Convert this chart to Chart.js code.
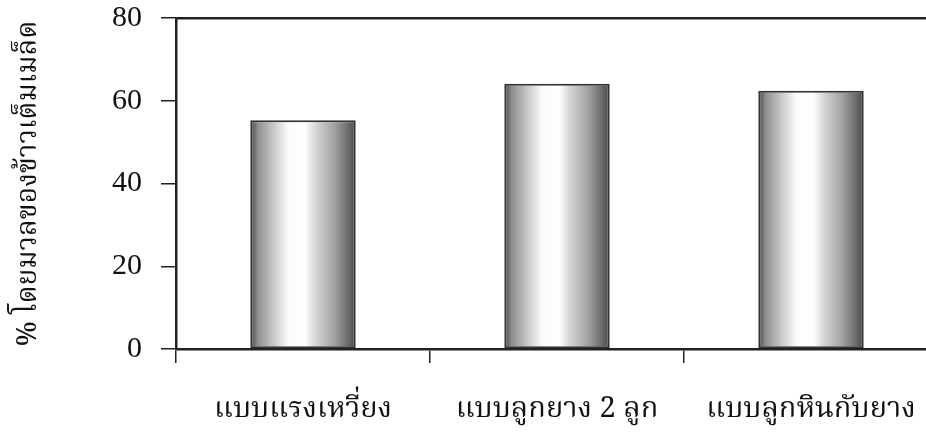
<!DOCTYPE html>
<html>
<head>
<meta charset="utf-8">
<script src="https://cdn.jsdelivr.net/npm/chart.js"></script>
<style>
  html, body { margin: 0; padding: 0; background: #fff; overflow: hidden; }
  #wrap { width: 940px; height: 445px; }
</style>
</head>
<body>
<div id="wrap"><canvas id="myChart"></canvas></div>
<script>
const categories = ['แบบแรงเหวี่ยง', 'แบบลูกยาง 2 ลูก', 'แบบลูกหินกับยาง'];
const wholeGrain = [55.3, 64.1, 62.4];
const yTicks = [0, 20, 40, 60, 80];

const thaiFont = "'Noto Serif Thai', 'Noto Sans Thai', 'Loma', 'Garuda', 'Liberation Serif', serif";
const lineColor = '#222';

// cylinder-like shading across each bar
function barShade(context) {
    const chart = context.chart;
    const xScale = chart.scales.x;
    if (!chart.chartArea || !xScale) return '#bbb';
    const step = xScale.width / categories.length;
    const half = step * 0.415 / 2;
    const cx = xScale.getPixelForValue(context.dataIndex);
    const g = chart.ctx.createLinearGradient(cx - half, 0, cx + half, 0);
    g.addColorStop(0, '#444');
    g.addColorStop(0.07, '#8e8e8e');
    g.addColorStop(0.22, '#c8c8c8');
    g.addColorStop(0.36, '#fbfbfb');
    g.addColorStop(0.52, '#ffffff');
    g.addColorStop(0.62, '#d6d6d6');
    g.addColorStop(0.8, '#a0a0a0');
    g.addColorStop(0.94, '#666');
    g.addColorStop(1, '#444');
    return g;
}

const ctx = document.getElementById('myChart');

const myChart = new Chart(ctx, {
    type: 'bar',
    data: {
        labels: categories,
        datasets: [{
            data: wholeGrain,
            backgroundColor: barShade,
            borderColor: '#333',
            borderWidth: 2,
            borderSkipped: false,
            barPercentage: 0.415,
            categoryPercentage: 1
        }]
    },
    options: {
        responsive: true,
        maintainAspectRatio: false,
        animation: false,
        layout: { padding: { top: 0, right: 2, left: 0, bottom: 0 } },
        plugins: {
            legend: { display: false },
            tooltip: { enabled: false }
        },
        scales: {
            x: {
                position: 'bottom',
                offset: true,
                grid: {
                    offset: true,
                    drawOnChartArea: false,
                    tickLength: 14,
                    lineWidth: 1.5,
                    color: lineColor
                },
                border: { display: true, color: lineColor, width: 2.5 },
                ticks: {
                    color: '#111',
                    padding: 32,
                    maxRotation: 0,
                    font: { family: thaiFont, size: 29 }
                },
                afterFit: (scale) => {
                    scale.height = 96;
                    scale.paddingLeft = 0;
                    scale.paddingRight = 0;
                }
            },
            x2: {
                position: 'top',
                type: 'category',
                labels: categories,
                ticks: { display: false },
                grid: { display: false },
                border: { display: true, color: lineColor, width: 2.5 },
                afterFit: (scale) => {
                    scale.height = 0;
                    scale.paddingLeft = 0;
                    scale.paddingRight = 0;
                }
            },
            y: {
                min: 0,
                max: 80,
                afterBuildTicks: (scale) => { scale.ticks = yTicks.map(v => ({ value: v })); },
                grid: {
                    drawOnChartArea: false,
                    tickLength: 15,
                    lineWidth: 1.5,
                    color: lineColor
                },
                border: { display: true, color: lineColor, width: 2.5 },
                ticks: {
                    color: '#111',
                    padding: 19,
                    font: { family: "'Liberation Serif', 'Times New Roman', serif", size: 30 }
                },
                title: {
                    display: true,
                    text: '% โดยมวลของข้าวเต็มเมล็ด',
                    color: '#111',
                    padding: { top: 15, bottom: 0 },
                    font: { family: thaiFont, size: 28 }
                },
                afterFit: (scale) => {
                    scale.width = 176;
                    scale.paddingTop = 18;
                    scale.paddingBottom = 0;
                }
            }
        }
    }
});
</script>
</body>
</html>
